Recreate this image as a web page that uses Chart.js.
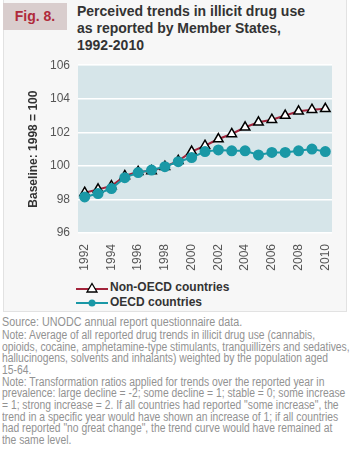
<!DOCTYPE html>
<html>
<head>
<meta charset="utf-8">
<script src="https://cdn.jsdelivr.net/npm/chart.js@4"></script>
<style>
  body { margin: 0; width: 350px; height: 452px; background: #fff; font-family: "Liberation Sans", Arial, sans-serif; position: relative; overflow: hidden; }
  .panel { position: absolute; left: 3px; top: 0; width: 342px; height: 311px; background: #f7f7f7; border: 1px solid #e2e2e2; border-top: none; }
  .fig { position: absolute; left: 3px; top: 3px; width: 64px; height: 27px; background: #d9cdcd; color: #b02a3a; font-weight: bold; font-size: 14px; line-height: 27px; text-align: center; }
  .title { position: absolute; left: 77px; top: 3px; color: #333; font-weight: bold; font-size: 14px; line-height: 17px; }
  #wrap { position: absolute; left: 0; top: 50px; width: 345px; height: 230px; }
  .legend { position: absolute; left: 76px; top: 280px; font-size: 12px; font-weight: bold; color: #333; line-height: 15px; }
  .legend div { display: flex; align-items: center; }
  .legend svg { margin-right: 2px; }
  .notes { position: absolute; left: 2px; top: 315px; width: 420px; color: #929292; font-size: 12px; line-height: 11.65px; white-space: nowrap; transform: scaleX(0.86); transform-origin: left top; }
  .notes .src { font-size: 12.5px; line-height: 15px; }
</style>
</head>
<body>
<div class="panel"></div>
<div class="fig">Fig. 8.</div>
<div class="title">Perceived trends in illicit drug use<br>as reported by Member States,<br>1992-2010</div>
<div id="wrap"><canvas id="chart"></canvas></div>
<div class="legend">
  <div><svg width="32" height="12"><line x1="0" y1="7" x2="32" y2="7" stroke="#a3243b" stroke-width="2"/><polygon points="16,1.5 21,10 11,10" fill="#fff" stroke="#000" stroke-width="1.3"/></svg>Non-OECD countries</div>
  <div><svg width="32" height="12"><line x1="0" y1="6" x2="32" y2="6" stroke="#1a98a6" stroke-width="2"/><circle cx="16" cy="6" r="3.5" fill="#1a98a6"/></svg>OECD countries</div>
</div>
<div class="notes">
  <div class="src">Source: UNODC annual report questionnaire data.</div>
  Note: Average of all reported drug trends in illicit drug use (cannabis,<br>
  opioids, cocaine, amphetamine-type stimulants, tranquillizers and sedatives,<br>
  hallucinogens, solvents and inhalants) weighted by the population aged<br>
  15-64.<br>
  Note: Transformation ratios applied for trends over the reported year in<br>
  prevalence: large decline = -2; some decline = 1; stable = 0; some increase<br>
  = 1; strong increase = 2. If all countries had reported "some increase", the<br>
  trend in a specific year would have shown an increase of 1; if all countries<br>
  had reported "no great change", the trend curve would have remained at<br>
  the same level.
</div>
<script>
// Data
const years = ['1992', '1993', '1994', '1995', '1996', '1997', '1998', '1999', '2000', '2001',
               '2002', '2003', '2004', '2005', '2006', '2007', '2008', '2009', '2010'];
const nonOecd = [98.4, 98.6, 98.8, 99.4, 99.65, 99.7, 99.95, 100.3, 100.85, 101.2,
                 101.6, 101.9, 102.3, 102.6, 102.75, 103.0, 103.25, 103.35, 103.4];
const oecd = [98.15, 98.35, 98.65, 99.3, 99.6, 99.75, 99.95, 100.25, 100.5, 100.85,
              100.95, 100.9, 100.9, 100.65, 100.8, 100.8, 100.9, 101.0, 100.85];
const yTicks = [96, 98, 100, 102, 104, 106];

// Plot background
const plotBg = {
    id: 'plotBg',
    beforeDraw(chart) {
        const { ctx, chartArea: a } = chart;
        ctx.save();
        ctx.fillStyle = '#d6e5e9';
        ctx.fillRect(a.left, a.top, a.right - a.left, a.bottom - a.top);
        ctx.restore();
    }
};

new Chart(document.getElementById('chart'), {
    type: 'line',
    data: {
        labels: years,
        datasets: [{
            label: 'Non-OECD countries',
            data: nonOecd,
            borderColor: '#a3243b',
            borderWidth: 2,
            pointStyle: 'triangle',
            pointRadius: 5.5,
            pointBackgroundColor: '#fff',
            pointBorderColor: '#000',
            pointBorderWidth: 1.5,
            order: 1
        }, {
            label: 'OECD countries',
            data: oecd,
            borderColor: '#1a98a6',
            borderWidth: 2,
            pointStyle: 'circle',
            pointRadius: 4.5,
            pointBackgroundColor: '#1a98a6',
            pointBorderColor: '#1a98a6',
            order: 0
        }]
    },
    options: {
        responsive: true,
        maintainAspectRatio: false,
        animation: false,
        layout: { padding: { top: 3, right: 13, left: 22, bottom: 0 } },
        plugins: {
            legend: { display: false },
            tooltip: { enabled: false }
        },
        scales: {
            x: {
                offset: true,
                grid: { display: false },
                border: { display: false },
                afterFit: s => { s.height = 47; },
                ticks: {
                    autoSkip: false,
                    minRotation: 90,
                    maxRotation: 90,
                    color: '#555',
                    font: { size: 12, family: 'Liberation Sans' },
                    callback: (v, i) => i % 2 === 0 ? years[i] : ''
                }
            },
            y: {
                min: 96,
                max: 106,
                afterFit: s => { s.width = 56; },
                afterBuildTicks: s => { s.ticks = yTicks.map(v => ({ value: v })); },
                grid: { color: '#fff', lineWidth: 1.5, drawTicks: false },
                border: { display: false },
                ticks: {
                    color: '#555',
                    padding: 8,
                    font: { size: 12, family: 'Liberation Sans' }
                },
                title: {
                    display: true,
                    text: 'Baseline: 1998 = 100',
                    color: '#333',
                    font: { size: 12, weight: 'bold', family: 'Liberation Sans' },
                    padding: { bottom: 6 }
                }
            }
        }
    },
    plugins: [plotBg]
});
</script>
</body>
</html>
